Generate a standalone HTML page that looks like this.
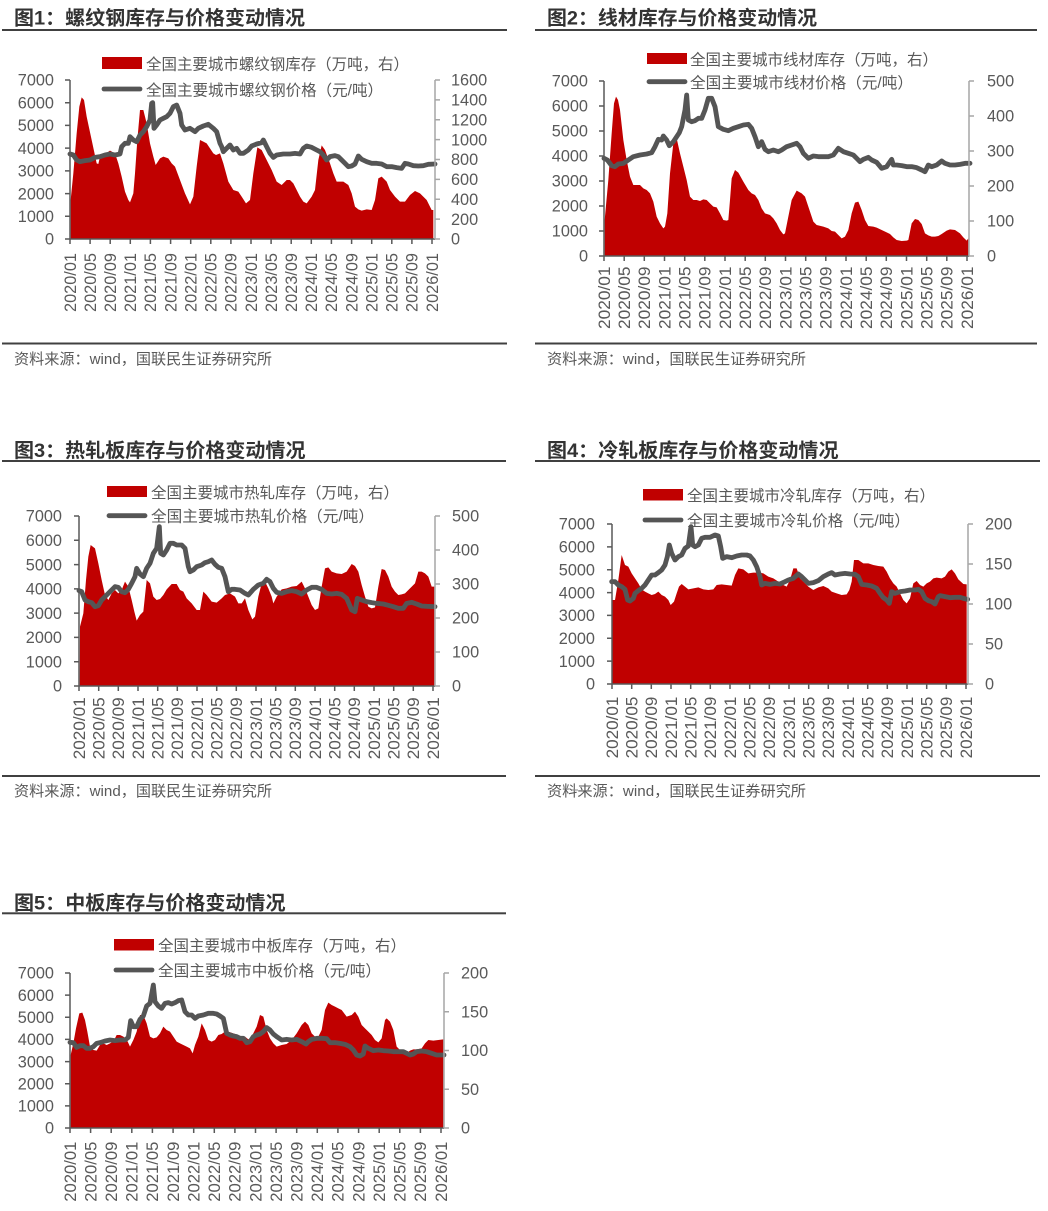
<!DOCTYPE html>
<html><head><meta charset="utf-8">
<style>
html,body{margin:0;padding:0;background:#fff;}
svg{display:block;}
.t{font-family:"Liberation Sans","Noto Sans CJK SC",sans-serif;font-weight:bold;font-size:19.5px;fill:#333;}
.lg{font-family:"Liberation Sans","Noto Sans CJK SC",sans-serif;font-size:15.5px;fill:#595959;}
.src{font-family:"Liberation Sans","Noto Sans CJK SC",sans-serif;font-size:15px;fill:#595959;}
.ax{font-family:"Liberation Sans",sans-serif;font-size:16.3px;fill:#595959;}
.xl{font-family:"Liberation Sans",sans-serif;font-size:17px;fill:#595959;}
.area{fill:#C00000;}
.pr{fill:none;stroke:#555;stroke-width:14.5;stroke-linejoin:round;stroke-linecap:round;}
.la{stroke:#595959;stroke-width:1.5;fill:none;}
.ra{stroke:#a6a6a6;stroke-width:1.5;fill:none;}
</style></head>
<body>
<svg width="1048" height="1211" viewBox="0 0 1048 1211" xmlns="http://www.w3.org/2000/svg">
<rect width="1048" height="1211" fill="#fff"/>

<!-- ================= CHART 1 ================= -->
<text class="t" x="14" y="24.5" textLength="291" lengthAdjust="spacingAndGlyphs">图1：螺纹钢库存与价格变动情况</text>
<rect x="2" y="29" width="505" height="2" fill="#404040"/>
<rect x="102" y="57" width="40" height="12" fill="#C00000"/>
<text class="lg" x="146" y="69.5" textLength="263" lengthAdjust="spacingAndGlyphs">全国主要城市螺纹钢库存（万吨，右）</text>
<line x1="104" y1="89" x2="140" y2="89" stroke="#555" stroke-width="4.8" stroke-linecap="round"/>
<text class="lg" x="146" y="95.5" textLength="237" lengthAdjust="spacingAndGlyphs">全国主要城市螺纹钢价格（元/吨）</text>
<g transform="translate(0,0) scale(0.333333)">
<path class="area" d="M212,718 L212,600 L220,520 L230,400 L238,320 L245,292 L252,300 L260,350 L275,420 L290,490 L295,492 L300,470 L315,462 L330,452 L345,460 L355,490 L365,530 L375,575 L385,600 L390,607 L400,580 L405,520 L412,420 L420,330 L430,330 L440,370 L450,430 L460,470 L467,495 L480,475 L490,470 L505,475 L515,490 L525,500 L540,540 L555,580 L570,613 L580,590 L590,500 L600,420 L610,425 L620,430 L640,460 L648,465 L660,460 L670,490 L685,545 L700,570 L715,575 L725,590 L738,610 L750,600 L760,520 L772,442 L785,450 L800,480 L815,510 L830,545 L845,555 L860,540 L870,540 L880,550 L890,570 L900,590 L910,605 L920,610 L935,590 L945,570 L955,480 L965,436 L975,450 L990,490 L1000,520 L1010,545 L1030,545 L1045,555 L1055,580 L1065,620 L1075,628 L1085,632 L1100,628 L1115,630 L1125,600 L1135,535 L1145,530 L1160,545 L1170,570 L1185,590 L1200,605 L1215,605 L1230,585 L1245,573 L1260,580 L1280,600 L1295,630 L1300,630 L1300,718 Z"/>
<polyline class="pr" points="210,462 220,465 230,480 240,485 255,482 270,480 285,472 300,470 315,465 330,462 345,465 360,462 365,440 375,430 385,430 390,410 400,420 410,425 420,405 430,395 440,380 450,360 455,310 458,308 462,385 470,375 480,360 490,355 500,350 510,340 520,320 530,315 540,340 545,375 555,390 570,385 585,395 595,385 610,378 625,373 640,385 650,395 660,430 665,440 670,455 680,445 690,435 700,450 710,445 720,460 730,460 745,450 755,438 770,432 785,428 790,420 800,440 810,460 820,472 830,465 850,462 870,462 885,460 900,462 910,445 920,438 935,442 950,450 960,455 970,465 980,480 990,470 1005,467 1015,470 1025,480 1035,490 1045,500 1055,498 1065,492 1075,468 1085,478 1100,485 1115,490 1130,490 1145,492 1160,500 1175,500 1190,503 1205,505 1215,490 1225,492 1240,497 1255,498 1270,497 1285,493 1305,492"/>
</g>
<path class="la" d="M70,80 V239 H435 M65,80H70 M65,102.7H70 M65,125.4H70 M65,148.1H70 M65,170.9H70 M65,193.6H70 M65,216.3H70 M65,239H70 M70,239V244 M90.1,239V244 M110.2,239V244 M130.3,239V244 M150.4,239V244 M170.6,239V244 M190.7,239V244 M210.8,239V244 M230.9,239V244 M251,239V244 M271.1,239V244 M291.2,239V244 M311.3,239V244 M331.4,239V244 M351.6,239V244 M371.7,239V244 M391.8,239V244 M411.9,239V244 M432,239V244"/>
<path class="ra" d="M435,80 V239 M435,80H440 M435,99.9H440 M435,119.75H440 M435,139.6H440 M435,159.5H440 M435,179.4H440 M435,199.25H440 M435,219.1H440 M435,239H440"/>
<g class="ax" text-anchor="end">
<text x="54" y="85.7">7000</text><text x="54" y="108.4">6000</text><text x="54" y="131.1">5000</text><text x="54" y="153.8">4000</text><text x="54" y="176.6">3000</text><text x="54" y="199.3">2000</text><text x="54" y="222">1000</text><text x="54" y="244.7">0</text>
</g>
<g class="ax">
<text x="451" y="85.7">1600</text><text x="451" y="105.6">1400</text><text x="451" y="125.4">1200</text><text x="451" y="145.3">1000</text><text x="451" y="165.2">800</text><text x="451" y="185.1">600</text><text x="451" y="205">400</text><text x="451" y="224.8">200</text><text x="451" y="244.7">0</text>
</g>
<g class="xl" text-anchor="end">
<text transform="translate(75.8,253) rotate(-90)" textLength="59" lengthAdjust="spacingAndGlyphs">2020/01</text>
<text transform="translate(95.9,253) rotate(-90)" textLength="59" lengthAdjust="spacingAndGlyphs">2020/05</text>
<text transform="translate(116,253) rotate(-90)" textLength="59" lengthAdjust="spacingAndGlyphs">2020/09</text>
<text transform="translate(136.1,253) rotate(-90)" textLength="59" lengthAdjust="spacingAndGlyphs">2021/01</text>
<text transform="translate(156.2,253) rotate(-90)" textLength="59" lengthAdjust="spacingAndGlyphs">2021/05</text>
<text transform="translate(176.4,253) rotate(-90)" textLength="59" lengthAdjust="spacingAndGlyphs">2021/09</text>
<text transform="translate(196.5,253) rotate(-90)" textLength="59" lengthAdjust="spacingAndGlyphs">2022/01</text>
<text transform="translate(216.6,253) rotate(-90)" textLength="59" lengthAdjust="spacingAndGlyphs">2022/05</text>
<text transform="translate(236.7,253) rotate(-90)" textLength="59" lengthAdjust="spacingAndGlyphs">2022/09</text>
<text transform="translate(256.8,253) rotate(-90)" textLength="59" lengthAdjust="spacingAndGlyphs">2023/01</text>
<text transform="translate(276.9,253) rotate(-90)" textLength="59" lengthAdjust="spacingAndGlyphs">2023/05</text>
<text transform="translate(297,253) rotate(-90)" textLength="59" lengthAdjust="spacingAndGlyphs">2023/09</text>
<text transform="translate(317.1,253) rotate(-90)" textLength="59" lengthAdjust="spacingAndGlyphs">2024/01</text>
<text transform="translate(337.2,253) rotate(-90)" textLength="59" lengthAdjust="spacingAndGlyphs">2024/05</text>
<text transform="translate(357.4,253) rotate(-90)" textLength="59" lengthAdjust="spacingAndGlyphs">2024/09</text>
<text transform="translate(377.5,253) rotate(-90)" textLength="59" lengthAdjust="spacingAndGlyphs">2025/01</text>
<text transform="translate(397.6,253) rotate(-90)" textLength="59" lengthAdjust="spacingAndGlyphs">2025/05</text>
<text transform="translate(417.7,253) rotate(-90)" textLength="59" lengthAdjust="spacingAndGlyphs">2025/09</text>
<text transform="translate(437.8,253) rotate(-90)" textLength="59" lengthAdjust="spacingAndGlyphs">2026/01</text>
</g>
<rect x="2" y="342.5" width="505" height="2" fill="#404040"/>
<text class="src" x="14" y="364" textLength="258" lengthAdjust="spacingAndGlyphs">资料来源：wind，国联民生证券研究所</text>

<!-- ================= CHART 2 ================= -->
<text class="t" x="547" y="24.5" textLength="270" lengthAdjust="spacingAndGlyphs">图2：线材库存与价格变动情况</text>
<rect x="535" y="29" width="502" height="2" fill="#404040"/>
<rect x="647" y="53" width="40" height="11" fill="#C00000"/>
<text class="lg" x="690" y="65" textLength="248" lengthAdjust="spacingAndGlyphs">全国主要城市线材库存（万吨，右）</text>
<line x1="649" y1="81.7" x2="685" y2="81.7" stroke="#555" stroke-width="4.8" stroke-linecap="round"/>
<text class="lg" x="690" y="88" textLength="223" lengthAdjust="spacingAndGlyphs">全国主要城市线材价格（元/吨）</text>
<g transform="translate(530,0) scale(0.333333)">
<path class="area" d="M224,769 L224,660 L235,540 L245,400 L252,310 L258,290 L264,300 L270,330 L280,420 L290,480 L300,530 L310,555 L320,555 L330,555 L340,565 L350,570 L360,580 L370,605 L380,650 L390,670 L400,685 L405,680 L412,640 L420,520 L430,430 L440,415 L450,460 L460,500 L470,540 L480,590 L490,600 L500,600 L510,603 L520,598 L530,600 L540,610 L550,620 L560,622 L570,640 L580,660 L590,662 L595,660 L600,600 L605,535 L615,510 L625,518 L640,545 L655,570 L665,580 L675,585 L685,600 L695,625 L705,640 L720,645 L730,655 L740,670 L750,690 L760,703 L765,700 L775,650 L785,600 L800,572 L815,580 L825,590 L835,620 L850,665 L860,675 L880,680 L895,685 L905,693 L915,695 L925,705 L935,715 L945,710 L955,690 L965,640 L975,608 L985,605 L995,630 L1005,660 L1015,678 L1030,680 L1040,683 L1055,690 L1070,697 L1080,702 L1090,712 L1100,720 L1115,723 L1130,722 L1135,720 L1145,670 L1155,657 L1165,660 L1175,672 L1185,700 L1195,706 L1205,710 L1215,710 L1225,708 L1235,702 L1250,692 L1260,688 L1275,690 L1290,700 L1300,712 L1310,722 L1315,715 L1315,769 Z"/>
<polyline class="pr" points="222,475 232,480 245,497 255,500 265,492 280,490 295,480 310,470 330,465 350,462 365,458 375,440 385,418 395,420 400,408 410,420 418,437 430,425 440,410 448,398 455,380 465,330 470,285 475,360 485,365 495,362 505,355 515,355 525,330 535,295 545,295 555,320 565,380 580,388 595,392 610,385 625,380 640,375 655,373 665,385 675,410 685,440 695,425 705,448 715,455 730,450 745,455 755,450 770,440 785,435 800,430 810,440 820,460 835,475 850,468 865,470 880,470 895,470 910,465 925,445 940,455 955,460 970,465 980,475 990,485 1000,478 1015,472 1025,480 1040,487 1055,505 1070,500 1085,478 1090,495 1100,495 1115,497 1130,500 1145,500 1160,503 1175,510 1185,515 1195,495 1205,500 1220,495 1235,483 1245,490 1260,495 1275,495 1290,493 1305,490 1320,490"/>
</g>
<path class="la" d="M604,81 V256 H969 M599,81H604 M599,106H604 M599,131H604 M599,156H604 M599,181H604 M599,206H604 M599,231H604 M599,256H604 M604,256V261 M624.2,256V261 M644.3,256V261 M664.5,256V261 M684.7,256V261 M704.8,256V261 M725,256V261 M745.2,256V261 M765.3,256V261 M785.5,256V261 M805.7,256V261 M825.8,256V261 M846,256V261 M866.2,256V261 M886.3,256V261 M906.5,256V261 M926.7,256V261 M946.8,256V261 M967,256V261"/>
<path class="ra" d="M969,81 V256 M969,81H974 M969,116H974 M969,151H974 M969,186H974 M969,221H974 M969,256H974"/>
<g class="ax" text-anchor="end">
<text x="588" y="86.7">7000</text><text x="588" y="111.7">6000</text><text x="588" y="136.7">5000</text><text x="588" y="161.7">4000</text><text x="588" y="186.7">3000</text><text x="588" y="211.7">2000</text><text x="588" y="236.7">1000</text><text x="588" y="261.7">0</text>
</g>
<g class="ax">
<text x="987" y="86.7">500</text><text x="987" y="121.7">400</text><text x="987" y="156.7">300</text><text x="987" y="191.7">200</text><text x="987" y="226.7">100</text><text x="987" y="261.7">0</text>
</g>
<g class="xl" text-anchor="end">
<text transform="translate(609.8,266.5) rotate(-90)" textLength="62.5" lengthAdjust="spacingAndGlyphs">2020/01</text>
<text transform="translate(630,266.5) rotate(-90)" textLength="62.5" lengthAdjust="spacingAndGlyphs">2020/05</text>
<text transform="translate(650.1,266.5) rotate(-90)" textLength="62.5" lengthAdjust="spacingAndGlyphs">2020/09</text>
<text transform="translate(670.3,266.5) rotate(-90)" textLength="62.5" lengthAdjust="spacingAndGlyphs">2021/01</text>
<text transform="translate(690.5,266.5) rotate(-90)" textLength="62.5" lengthAdjust="spacingAndGlyphs">2021/05</text>
<text transform="translate(710.6,266.5) rotate(-90)" textLength="62.5" lengthAdjust="spacingAndGlyphs">2021/09</text>
<text transform="translate(730.8,266.5) rotate(-90)" textLength="62.5" lengthAdjust="spacingAndGlyphs">2022/01</text>
<text transform="translate(751,266.5) rotate(-90)" textLength="62.5" lengthAdjust="spacingAndGlyphs">2022/05</text>
<text transform="translate(771.1,266.5) rotate(-90)" textLength="62.5" lengthAdjust="spacingAndGlyphs">2022/09</text>
<text transform="translate(791.3,266.5) rotate(-90)" textLength="62.5" lengthAdjust="spacingAndGlyphs">2023/01</text>
<text transform="translate(811.5,266.5) rotate(-90)" textLength="62.5" lengthAdjust="spacingAndGlyphs">2023/05</text>
<text transform="translate(831.6,266.5) rotate(-90)" textLength="62.5" lengthAdjust="spacingAndGlyphs">2023/09</text>
<text transform="translate(851.8,266.5) rotate(-90)" textLength="62.5" lengthAdjust="spacingAndGlyphs">2024/01</text>
<text transform="translate(872,266.5) rotate(-90)" textLength="62.5" lengthAdjust="spacingAndGlyphs">2024/05</text>
<text transform="translate(892.1,266.5) rotate(-90)" textLength="62.5" lengthAdjust="spacingAndGlyphs">2024/09</text>
<text transform="translate(912.3,266.5) rotate(-90)" textLength="62.5" lengthAdjust="spacingAndGlyphs">2025/01</text>
<text transform="translate(932.5,266.5) rotate(-90)" textLength="62.5" lengthAdjust="spacingAndGlyphs">2025/05</text>
<text transform="translate(952.6,266.5) rotate(-90)" textLength="62.5" lengthAdjust="spacingAndGlyphs">2025/09</text>
<text transform="translate(972.8,266.5) rotate(-90)" textLength="62.5" lengthAdjust="spacingAndGlyphs">2026/01</text>
</g>
<rect x="535" y="342.5" width="502" height="2" fill="#404040"/>
<text class="src" x="547" y="364" textLength="259" lengthAdjust="spacingAndGlyphs">资料来源：wind，国联民生证券研究所</text>

<!-- ================= CHART 3 ================= -->
<text class="t" x="14" y="457" textLength="291.5" lengthAdjust="spacingAndGlyphs">图3：热轧板库存与价格变动情况</text>
<rect x="2" y="460" width="504" height="2" fill="#404040"/>
<rect x="107" y="486" width="40" height="11" fill="#C00000"/>
<text class="lg" x="151" y="498" textLength="248" lengthAdjust="spacingAndGlyphs">全国主要城市热轧库存（万吨，右）</text>
<line x1="109" y1="515.7" x2="145" y2="515.7" stroke="#555" stroke-width="4.8" stroke-linecap="round"/>
<text class="lg" x="151" y="521.5" textLength="223" lengthAdjust="spacingAndGlyphs">全国主要城市热轧价格（元/吨）</text>
<g transform="translate(0,430) scale(0.333333)">
<path class="area" d="M239,768 L240,590 L250,550 L258,450 L265,380 L272,345 L285,355 L295,400 L305,450 L315,495 L325,510 L335,490 L345,480 L355,490 L365,480 L375,455 L385,470 L395,510 L403,545 L410,572 L420,555 L430,545 L440,450 L450,460 L460,500 L470,510 L480,507 L490,495 L500,478 L515,462 L530,462 L540,480 L550,485 L560,505 L575,520 L590,540 L600,540 L610,485 L620,495 L635,515 L650,518 L665,505 L675,495 L690,490 L705,500 L715,520 L725,520 L735,505 L745,540 L757,568 L765,560 L775,500 L785,460 L795,455 L805,475 L815,500 L820,520 L830,500 L845,478 L860,475 L875,470 L890,468 L905,455 L915,475 L925,500 L935,525 L945,540 L955,535 L965,470 L975,415 L985,412 L995,425 L1010,430 L1025,432 L1040,425 L1055,402 L1065,408 L1075,425 L1085,465 L1095,500 L1105,530 L1115,535 L1125,532 L1135,470 L1145,417 L1155,420 L1165,440 L1175,470 L1185,485 L1195,495 L1205,493 L1215,490 L1230,475 L1245,460 L1255,425 L1265,425 L1275,430 L1285,440 L1295,470 L1303,470 L1303,768 Z"/>
<polyline class="pr" points="237,482 245,485 255,510 265,515 275,518 285,530 295,527 305,510 315,500 330,485 345,470 355,472 365,485 375,488 385,478 395,460 405,440 410,415 420,432 430,440 440,415 450,400 460,370 470,355 478,290 482,370 490,375 500,360 510,340 520,340 530,345 545,345 555,355 565,410 570,425 580,420 590,410 605,405 615,398 625,395 635,390 645,403 655,412 665,415 675,440 685,485 695,478 705,478 720,480 735,490 745,495 760,478 775,465 790,460 800,448 810,455 820,475 830,487 845,490 860,485 875,482 890,485 905,492 920,480 935,472 950,472 965,478 980,490 995,492 1010,490 1025,493 1040,505 1055,540 1065,545 1072,505 1085,510 1100,515 1115,518 1130,520 1150,522 1165,526 1180,530 1195,535 1210,535 1220,520 1235,517 1250,522 1265,528 1280,529 1305,530"/>
</g>
<path class="la" d="M79,516 V686 H435 M74,516H79 M74,540.3H79 M74,564.6H79 M74,588.9H79 M74,613.1H79 M74,637.4H79 M74,661.7H79 M74,686H79 M79,686V691 M98.7,686V691 M118.3,686V691 M138,686V691 M157.7,686V691 M177.3,686V691 M197,686V691 M216.7,686V691 M236.3,686V691 M256,686V691 M275.7,686V691 M295.3,686V691 M315,686V691 M334.7,686V691 M354.3,686V691 M374,686V691 M393.7,686V691 M413.3,686V691 M433,686V691"/>
<path class="ra" d="M435,516 V686 M435,516H440 M435,550H440 M435,584H440 M435,618H440 M435,652H440 M435,686H440"/>
<g class="ax" text-anchor="end">
<text x="62" y="521.7">7000</text><text x="62" y="546">6000</text><text x="62" y="570.3">5000</text><text x="62" y="594.6">4000</text><text x="62" y="618.8">3000</text><text x="62" y="643.1">2000</text><text x="62" y="667.4">1000</text><text x="62" y="691.7">0</text>
</g>
<g class="ax">
<text x="452" y="521.7">500</text><text x="452" y="555.7">400</text><text x="452" y="589.7">300</text><text x="452" y="623.7">200</text><text x="452" y="657.7">100</text><text x="452" y="691.7">0</text>
</g>
<g class="xl" text-anchor="end">
<text transform="translate(84.8,697.3) rotate(-90)" textLength="62" lengthAdjust="spacingAndGlyphs">2020/01</text>
<text transform="translate(104.5,697.3) rotate(-90)" textLength="62" lengthAdjust="spacingAndGlyphs">2020/05</text>
<text transform="translate(124.1,697.3) rotate(-90)" textLength="62" lengthAdjust="spacingAndGlyphs">2020/09</text>
<text transform="translate(143.8,697.3) rotate(-90)" textLength="62" lengthAdjust="spacingAndGlyphs">2021/01</text>
<text transform="translate(163.5,697.3) rotate(-90)" textLength="62" lengthAdjust="spacingAndGlyphs">2021/05</text>
<text transform="translate(183.1,697.3) rotate(-90)" textLength="62" lengthAdjust="spacingAndGlyphs">2021/09</text>
<text transform="translate(202.8,697.3) rotate(-90)" textLength="62" lengthAdjust="spacingAndGlyphs">2022/01</text>
<text transform="translate(222.5,697.3) rotate(-90)" textLength="62" lengthAdjust="spacingAndGlyphs">2022/05</text>
<text transform="translate(242.1,697.3) rotate(-90)" textLength="62" lengthAdjust="spacingAndGlyphs">2022/09</text>
<text transform="translate(261.8,697.3) rotate(-90)" textLength="62" lengthAdjust="spacingAndGlyphs">2023/01</text>
<text transform="translate(281.5,697.3) rotate(-90)" textLength="62" lengthAdjust="spacingAndGlyphs">2023/05</text>
<text transform="translate(301.1,697.3) rotate(-90)" textLength="62" lengthAdjust="spacingAndGlyphs">2023/09</text>
<text transform="translate(320.8,697.3) rotate(-90)" textLength="62" lengthAdjust="spacingAndGlyphs">2024/01</text>
<text transform="translate(340.5,697.3) rotate(-90)" textLength="62" lengthAdjust="spacingAndGlyphs">2024/05</text>
<text transform="translate(360.1,697.3) rotate(-90)" textLength="62" lengthAdjust="spacingAndGlyphs">2024/09</text>
<text transform="translate(379.8,697.3) rotate(-90)" textLength="62" lengthAdjust="spacingAndGlyphs">2025/01</text>
<text transform="translate(399.5,697.3) rotate(-90)" textLength="62" lengthAdjust="spacingAndGlyphs">2025/05</text>
<text transform="translate(419.1,697.3) rotate(-90)" textLength="62" lengthAdjust="spacingAndGlyphs">2025/09</text>
<text transform="translate(438.8,697.3) rotate(-90)" textLength="62" lengthAdjust="spacingAndGlyphs">2026/01</text>
</g>
<rect x="2" y="775" width="504" height="2" fill="#404040"/>
<text class="src" x="14" y="796" textLength="258" lengthAdjust="spacingAndGlyphs">资料来源：wind，国联民生证券研究所</text>

<!-- ================= CHART 4 ================= -->
<text class="t" x="547" y="457" textLength="291.5" lengthAdjust="spacingAndGlyphs">图4：冷轧板库存与价格变动情况</text>
<rect x="535" y="460" width="505" height="2" fill="#404040"/>
<rect x="643" y="489" width="40" height="11.5" fill="#C00000"/>
<text class="lg" x="687" y="501" textLength="248" lengthAdjust="spacingAndGlyphs">全国主要城市冷轧库存（万吨，右）</text>
<line x1="645" y1="520" x2="681" y2="520" stroke="#555" stroke-width="4.8" stroke-linecap="round"/>
<text class="lg" x="687" y="526" textLength="223" lengthAdjust="spacingAndGlyphs">全国主要城市冷轧价格（元/吨）</text>
<g transform="translate(530,430) scale(0.333333)">
<path class="area" d="M247,763 L247,510 L255,510 L265,450 L275,375 L285,405 L295,410 L305,430 L315,445 L325,460 L335,478 L345,485 L355,490 L365,495 L375,492 L385,485 L395,495 L405,500 L415,510 L422,525 L432,515 L440,490 L447,470 L455,462 L465,470 L475,478 L490,475 L505,472 L520,478 L535,480 L550,478 L560,465 L575,463 L590,465 L605,467 L615,435 L625,415 L640,418 L655,430 L670,428 L685,428 L700,430 L715,440 L730,445 L745,455 L760,465 L770,470 L780,450 L790,415 L800,415 L810,445 L820,455 L835,470 L850,480 L865,472 L880,468 L895,475 L905,485 L920,490 L935,495 L950,493 L958,480 L965,455 L972,390 L985,390 L1000,400 L1015,400 L1030,405 L1045,408 L1060,410 L1070,425 L1080,445 L1090,460 L1100,470 L1110,490 L1120,510 L1130,520 L1140,505 L1150,460 L1160,453 L1170,465 L1180,470 L1190,460 L1200,455 L1210,445 L1220,443 L1235,445 L1245,440 L1255,425 L1265,418 L1275,430 L1285,448 L1300,462 L1310,463 L1310,763 Z"/>
<polyline class="pr" points="245,455 255,455 265,465 275,470 285,478 293,510 300,513 310,505 315,490 325,482 335,475 345,465 355,450 365,435 375,435 385,428 395,420 405,405 412,380 418,345 425,370 435,390 445,380 455,375 465,355 475,348 483,290 488,345 495,350 505,345 515,325 525,322 540,322 555,315 565,318 572,350 578,385 590,380 605,383 620,378 635,375 650,375 660,378 670,390 680,410 690,440 695,465 705,460 720,463 735,460 750,462 765,455 775,450 790,445 805,432 815,440 825,450 835,460 850,458 865,452 880,440 895,432 905,428 915,435 930,432 945,430 960,432 975,433 985,440 995,463 1010,465 1025,468 1040,475 1050,490 1060,503 1070,510 1078,520 1085,485 1095,490 1110,485 1125,483 1140,480 1155,480 1165,478 1175,485 1185,505 1195,512 1205,515 1215,522 1225,500 1230,497 1245,500 1260,503 1275,502 1290,502 1300,505 1313,508"/>
</g>
<path class="la" d="M612,524 V684 H968 M607,524H612 M607,546.9H612 M607,569.7H612 M607,592.6H612 M607,615.4H612 M607,638.3H612 M607,661.1H612 M607,684H612 M612,684V689 M631.7,684V689 M651.3,684V689 M671,684V689 M690.7,684V689 M710.3,684V689 M730,684V689 M749.7,684V689 M769.3,684V689 M789,684V689 M808.7,684V689 M828.3,684V689 M848,684V689 M867.7,684V689 M887.3,684V689 M907,684V689 M926.7,684V689 M946.3,684V689 M966,684V689"/>
<path class="ra" d="M968,524 V684 M968,524H973 M968,564H973 M968,604H973 M968,644H973 M968,684H973"/>
<g class="ax" text-anchor="end">
<text x="595" y="529.7">7000</text><text x="595" y="552.6">6000</text><text x="595" y="575.4">5000</text><text x="595" y="598.3">4000</text><text x="595" y="621.1">3000</text><text x="595" y="644">2000</text><text x="595" y="666.8">1000</text><text x="595" y="689.7">0</text>
</g>
<g class="ax">
<text x="985" y="529.7">200</text><text x="985" y="569.7">150</text><text x="985" y="609.7">100</text><text x="985" y="649.7">50</text><text x="985" y="689.7">0</text>
</g>
<g class="xl" text-anchor="end">
<text transform="translate(617.8,696.7) rotate(-90)" textLength="61.7" lengthAdjust="spacingAndGlyphs">2020/01</text>
<text transform="translate(637.5,696.7) rotate(-90)" textLength="61.7" lengthAdjust="spacingAndGlyphs">2020/05</text>
<text transform="translate(657.1,696.7) rotate(-90)" textLength="61.7" lengthAdjust="spacingAndGlyphs">2020/09</text>
<text transform="translate(676.8,696.7) rotate(-90)" textLength="61.7" lengthAdjust="spacingAndGlyphs">2021/01</text>
<text transform="translate(696.5,696.7) rotate(-90)" textLength="61.7" lengthAdjust="spacingAndGlyphs">2021/05</text>
<text transform="translate(716.1,696.7) rotate(-90)" textLength="61.7" lengthAdjust="spacingAndGlyphs">2021/09</text>
<text transform="translate(735.8,696.7) rotate(-90)" textLength="61.7" lengthAdjust="spacingAndGlyphs">2022/01</text>
<text transform="translate(755.5,696.7) rotate(-90)" textLength="61.7" lengthAdjust="spacingAndGlyphs">2022/05</text>
<text transform="translate(775.1,696.7) rotate(-90)" textLength="61.7" lengthAdjust="spacingAndGlyphs">2022/09</text>
<text transform="translate(794.8,696.7) rotate(-90)" textLength="61.7" lengthAdjust="spacingAndGlyphs">2023/01</text>
<text transform="translate(814.5,696.7) rotate(-90)" textLength="61.7" lengthAdjust="spacingAndGlyphs">2023/05</text>
<text transform="translate(834.1,696.7) rotate(-90)" textLength="61.7" lengthAdjust="spacingAndGlyphs">2023/09</text>
<text transform="translate(853.8,696.7) rotate(-90)" textLength="61.7" lengthAdjust="spacingAndGlyphs">2024/01</text>
<text transform="translate(873.5,696.7) rotate(-90)" textLength="61.7" lengthAdjust="spacingAndGlyphs">2024/05</text>
<text transform="translate(893.1,696.7) rotate(-90)" textLength="61.7" lengthAdjust="spacingAndGlyphs">2024/09</text>
<text transform="translate(912.8,696.7) rotate(-90)" textLength="61.7" lengthAdjust="spacingAndGlyphs">2025/01</text>
<text transform="translate(932.5,696.7) rotate(-90)" textLength="61.7" lengthAdjust="spacingAndGlyphs">2025/05</text>
<text transform="translate(952.1,696.7) rotate(-90)" textLength="61.7" lengthAdjust="spacingAndGlyphs">2025/09</text>
<text transform="translate(971.8,696.7) rotate(-90)" textLength="61.7" lengthAdjust="spacingAndGlyphs">2026/01</text>
</g>
<rect x="535" y="775" width="505" height="2" fill="#404040"/>
<text class="src" x="547" y="796" textLength="259" lengthAdjust="spacingAndGlyphs">资料来源：wind，国联民生证券研究所</text>
<line x1="572" y1="790" x2="578" y2="790" stroke="#888" stroke-width="1"/>

<!-- ================= CHART 5 ================= -->
<text class="t" x="14" y="909.5" textLength="271.5" lengthAdjust="spacingAndGlyphs">图5：中板库存与价格变动情况</text>
<rect x="2" y="912.3" width="504" height="2" fill="#404040"/>
<rect x="114" y="939" width="40" height="11.5" fill="#C00000"/>
<text class="lg" x="158" y="951" textLength="248" lengthAdjust="spacingAndGlyphs">全国主要城市中板库存（万吨，右）</text>
<line x1="116" y1="970" x2="152" y2="970" stroke="#555" stroke-width="4.8" stroke-linecap="round"/>
<text class="lg" x="158" y="976" textLength="223" lengthAdjust="spacingAndGlyphs">全国主要城市中板价格（元/吨）</text>
<g transform="translate(0,880) scale(0.333333)">
<path class="area" d="M212,743 L212,525 L220,490 L228,445 L238,400 L247,398 L255,420 L262,455 L270,500 L280,510 L290,512 L300,495 L310,490 L320,495 L330,490 L340,485 L350,465 L360,465 L370,470 L380,478 L390,500 L400,480 L410,455 L420,405 L430,405 L440,430 L450,470 L460,475 L470,472 L480,460 L490,440 L500,450 L510,455 L520,470 L530,485 L540,490 L550,495 L560,500 L570,505 L578,520 L585,495 L595,470 L605,430 L615,450 L625,480 L635,485 L645,480 L655,465 L665,462 L675,455 L685,455 L700,460 L715,465 L725,470 L735,470 L745,478 L755,470 L770,440 L780,405 L790,410 L800,450 L810,475 L820,490 L830,500 L845,495 L860,492 L875,480 L890,460 L905,435 L915,425 L925,435 L935,460 L945,470 L955,470 L965,450 L975,390 L985,368 L995,375 L1005,380 L1015,385 L1025,390 L1040,410 L1055,405 L1065,395 L1075,410 L1085,435 L1095,445 L1105,455 L1115,465 L1125,480 L1135,487 L1145,475 L1155,420 L1160,415 L1170,425 L1180,450 L1190,500 L1200,510 L1210,518 L1220,520 L1230,512 L1240,508 L1250,508 L1265,505 L1275,490 L1285,480 L1300,482 L1315,480 L1330,478 L1330,743 Z"/>
<polyline class="pr" points="210,487 220,488 230,502 240,497 250,497 260,505 270,505 280,500 290,490 300,488 315,483 330,480 345,482 360,480 375,480 385,472 392,422 400,440 410,440 420,418 430,408 440,378 450,370 460,315 465,365 475,378 485,385 495,370 505,368 515,372 525,368 535,362 545,360 555,395 565,405 575,405 585,415 595,408 610,405 625,400 640,400 650,402 660,408 670,415 680,460 690,465 700,468 710,470 720,475 730,475 740,488 750,485 760,470 770,465 780,462 790,455 800,443 810,450 820,462 830,470 845,480 860,478 875,480 890,478 905,485 918,492 925,485 935,478 950,475 965,475 980,476 990,488 1005,488 1020,490 1035,493 1050,500 1060,510 1070,525 1080,528 1090,522 1095,498 1105,505 1120,512 1135,510 1150,512 1165,513 1180,515 1195,515 1210,515 1220,520 1230,525 1240,522 1250,515 1265,513 1280,515 1295,520 1310,525 1332,525"/>
</g>
<path class="la" d="M70,973 V1128 H444 M65,973H70 M65,995.1H70 M65,1017.3H70 M65,1039.4H70 M65,1061.6H70 M65,1083.7H70 M65,1105.9H70 M65,1128H70 M70,1128V1133 M90.6,1128V1133 M111.2,1128V1133 M131.8,1128V1133 M152.4,1128V1133 M173.1,1128V1133 M193.7,1128V1133 M214.3,1128V1133 M234.9,1128V1133 M255.5,1128V1133 M276.1,1128V1133 M296.7,1128V1133 M317.3,1128V1133 M337.9,1128V1133 M358.6,1128V1133 M379.2,1128V1133 M399.8,1128V1133 M420.4,1128V1133 M441,1128V1133"/>
<path class="ra" d="M444,973 V1128 M444,973H449 M444,1011.75H449 M444,1050.5H449 M444,1089.25H449 M444,1128H449"/>
<g class="ax" text-anchor="end">
<text x="54" y="978.7">7000</text><text x="54" y="1000.8">6000</text><text x="54" y="1023">5000</text><text x="54" y="1045.1">4000</text><text x="54" y="1067.3">3000</text><text x="54" y="1089.4">2000</text><text x="54" y="1111.6">1000</text><text x="54" y="1133.7">0</text>
</g>
<g class="ax">
<text x="461" y="978.7">200</text><text x="461" y="1017.4">150</text><text x="461" y="1056.2">100</text><text x="461" y="1095">50</text><text x="461" y="1133.7">0</text>
</g>
<g class="xl" text-anchor="end">
<text transform="translate(75.8,1141.7) rotate(-90)" textLength="60" lengthAdjust="spacingAndGlyphs">2020/01</text>
<text transform="translate(96.4,1141.7) rotate(-90)" textLength="60" lengthAdjust="spacingAndGlyphs">2020/05</text>
<text transform="translate(117,1141.7) rotate(-90)" textLength="60" lengthAdjust="spacingAndGlyphs">2020/09</text>
<text transform="translate(137.6,1141.7) rotate(-90)" textLength="60" lengthAdjust="spacingAndGlyphs">2021/01</text>
<text transform="translate(158.2,1141.7) rotate(-90)" textLength="60" lengthAdjust="spacingAndGlyphs">2021/05</text>
<text transform="translate(178.9,1141.7) rotate(-90)" textLength="60" lengthAdjust="spacingAndGlyphs">2021/09</text>
<text transform="translate(199.5,1141.7) rotate(-90)" textLength="60" lengthAdjust="spacingAndGlyphs">2022/01</text>
<text transform="translate(220.1,1141.7) rotate(-90)" textLength="60" lengthAdjust="spacingAndGlyphs">2022/05</text>
<text transform="translate(240.7,1141.7) rotate(-90)" textLength="60" lengthAdjust="spacingAndGlyphs">2022/09</text>
<text transform="translate(261.3,1141.7) rotate(-90)" textLength="60" lengthAdjust="spacingAndGlyphs">2023/01</text>
<text transform="translate(281.9,1141.7) rotate(-90)" textLength="60" lengthAdjust="spacingAndGlyphs">2023/05</text>
<text transform="translate(302.5,1141.7) rotate(-90)" textLength="60" lengthAdjust="spacingAndGlyphs">2023/09</text>
<text transform="translate(323.1,1141.7) rotate(-90)" textLength="60" lengthAdjust="spacingAndGlyphs">2024/01</text>
<text transform="translate(343.7,1141.7) rotate(-90)" textLength="60" lengthAdjust="spacingAndGlyphs">2024/05</text>
<text transform="translate(364.4,1141.7) rotate(-90)" textLength="60" lengthAdjust="spacingAndGlyphs">2024/09</text>
<text transform="translate(385,1141.7) rotate(-90)" textLength="60" lengthAdjust="spacingAndGlyphs">2025/01</text>
<text transform="translate(405.6,1141.7) rotate(-90)" textLength="60" lengthAdjust="spacingAndGlyphs">2025/05</text>
<text transform="translate(426.2,1141.7) rotate(-90)" textLength="60" lengthAdjust="spacingAndGlyphs">2025/09</text>
<text transform="translate(446.8,1141.7) rotate(-90)" textLength="60" lengthAdjust="spacingAndGlyphs">2026/01</text>
</g>
</svg>
</body></html>
